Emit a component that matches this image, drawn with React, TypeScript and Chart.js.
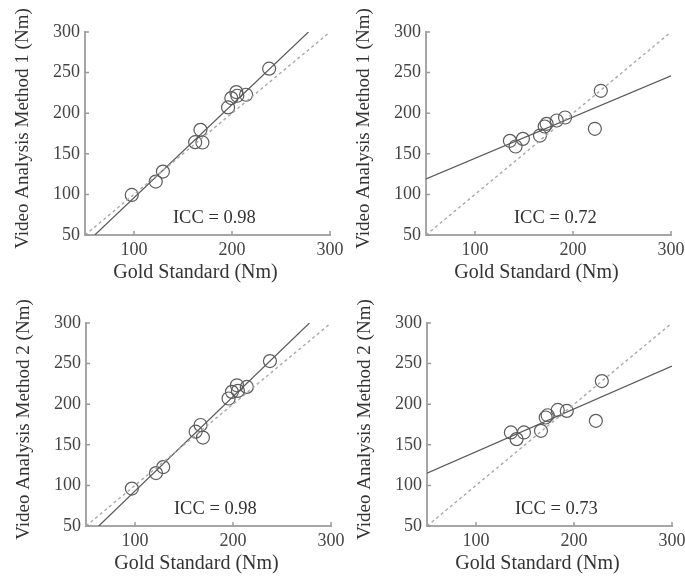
import React, { useEffect, useRef } from "react";
import { Chart, registerables } from "chart.js";

Chart.register(...registerables);

// ---- data ----
const xTicks = [100, 200, 300];
const yTicks = [50, 100, 150, 200, 250, 300];
const identityX = [50, 300];
const identityY = [50, 300];
const xTitle = "Gold Standard (Nm)";
const yTitles = [
  "Video Analysis Method 1 (Nm)",
  "Video Analysis Method 1 (Nm)",
  "Video Analysis Method 2 (Nm)",
  "Video Analysis Method 2 (Nm)",
];
const iccLabels = ["ICC = 0.98", "ICC = 0.72", "ICC = 0.98", "ICC = 0.73"];
const iccAt = [182, 71];

// panel 1: method 1 vs gold (all)
const p1Gold = [97.7, 122.2, 129.5, 162.4, 169.8, 167.8, 196, 199.3, 204.4, 205.4, 214.4, 237.9];
const p1Video = [99.3, 115.8, 128.1, 164.3, 163.9, 179.5, 207.1, 218.6, 226, 221.5, 222.7, 254.8];
const p1FitX = [60, 278];
const p1FitY = [50, 300];

// panel 2: method 1 vs gold (subset)
const p2Gold = [135.6, 141.4, 148.9, 166.3, 171.1, 173.1, 183.4, 191.9, 222.3, 228.4];
const p2Video = [166, 159, 168.4, 172.5, 183.6, 186.9, 191, 194.7, 180.8, 227.6];
const p2FitX = [50, 300];
const p2FitY = [119, 246];

// panel 3: method 2 vs gold (all)
const p3Gold = [96.8, 121.4, 128.8, 161.9, 166.9, 169.3, 195.5, 198.9, 204, 205, 214.1, 237.7];
const p3Video = [96.1, 115.2, 122.6, 166.2, 174.4, 158.9, 207, 215.2, 223.3, 216.4, 221.3, 253.1];
const p3FitX = [63, 278];
const p3FitY = [50, 300];

// panel 4: method 2 vs gold (subset)
const p4Gold = [135.6, 141.4, 148.9, 166.3, 171.1, 173.1, 183.4, 192.6, 222.3, 228.4];
const p4Video = [165.2, 157, 165.2, 167.2, 183.6, 186.4, 192.9, 191.7, 179.5, 228.5];
const p4FitX = [50, 300];
const p4FitY = [115, 247];

const FONT = "'Liberation Serif', 'Times New Roman', serif";

const panels = [
  { left: 0, top: 0, gx: p1Gold, vy: p1Video, fx: p1FitX, fy: p1FitY, icc: iccLabels[0], yTitle: yTitles[0] },
  { left: 341, top: 0, gx: p2Gold, vy: p2Video, fx: p2FitX, fy: p2FitY, icc: iccLabels[1], yTitle: yTitles[1] },
  { left: 1, top: 291, gx: p3Gold, vy: p3Video, fx: p3FitX, fy: p3FitY, icc: iccLabels[2], yTitle: yTitles[2] },
  { left: 342, top: 291, gx: p4Gold, vy: p4Video, fx: p4FitX, fy: p4FitY, icc: iccLabels[3], yTitle: yTitles[3] },
];

const zip = (xs: number[], ys: number[]) => xs.map((x, i) => ({ x, y: ys[i] }));

const decoPlugin = {
  id: "panelDeco",
  afterDraw(chart: any, _args: any, opts: any) {
    const { ctx, chartArea } = chart;
    const xs = chart.scales.x;
    const ys = chart.scales.y;
    ctx.save();
    // inner tick marks
    ctx.strokeStyle = "#9a9a9a";
    ctx.lineWidth = 1.5;
    ctx.beginPath();
    xTicks.forEach((v) => {
      const px = xs.getPixelForValue(v);
      ctx.moveTo(px, chartArea.bottom);
      ctx.lineTo(px, chartArea.bottom - 4);
    });
    yTicks.forEach((v) => {
      const py = ys.getPixelForValue(v);
      ctx.moveTo(chartArea.left, py);
      ctx.lineTo(chartArea.left + 4, py);
    });
    ctx.stroke();
    // ICC text
    ctx.fillStyle = "#333";
    ctx.font = `18.5px ${FONT}`;
    ctx.textAlign = "center";
    ctx.textBaseline = "middle";
    ctx.fillText(opts.icc, xs.getPixelForValue(iccAt[0]), ys.getPixelForValue(iccAt[1]));
    // x title
    ctx.font = `20px ${FONT}`;
    ctx.fillText(xTitle, (chartArea.left + chartArea.right) / 2 - 12, chartArea.bottom + 38);
    // y title
    ctx.font = `19px ${FONT}`;
    ctx.translate(23, (chartArea.top + chartArea.bottom) / 2 - 5);
    ctx.rotate(-Math.PI / 2);
    ctx.fillText(opts.yTitle, 0, 0);
    ctx.restore();
  },
};

function Panel({ p }: { p: any }) {
  const ref = useRef<HTMLCanvasElement>(null);
  useEffect(() => {
    if (!ref.current) return;
    const tickFont = { family: FONT, size: 18 };
    const chart = new Chart(ref.current, {
      type: "scatter",
      data: {
        datasets: [
          {
            type: "line",
            data: zip(identityX, identityY),
            borderColor: "#a8a8a8",
            borderDash: [3, 3],
            borderWidth: 1.4,
            pointRadius: 0,
            fill: false,
          } as any,
          {
            type: "line",
            data: zip(p.fx, p.fy),
            borderColor: "#5a5a5a",
            borderWidth: 1.2,
            pointRadius: 0,
            fill: false,
          } as any,
          {
            type: "scatter",
            data: zip(p.gx, p.vy),
            pointStyle: "circle",
            pointRadius: 6.5,
            backgroundColor: "rgba(0,0,0,0)",
            borderColor: "#5c5c5c",
            borderWidth: 1.2,
          } as any,
        ],
      },
      options: {
        responsive: false,
        animation: false,
        layout: { padding: { top: 32, right: 20, left: 0, bottom: 0 } },
        plugins: {
          legend: { display: false },
          tooltip: { enabled: false },
          panelDeco: { icc: p.icc, yTitle: p.yTitle },
        } as any,
        scales: {
          x: {
            type: "linear",
            min: 50,
            max: 300,
            afterBuildTicks: (s: any) => {
              s.ticks = xTicks.map((v) => ({ value: v }));
            },
            afterFit: (s: any) => {
              s.height = 55;
            },
            grid: { display: false, drawTicks: false },
            border: { color: "#a6a6a6", width: 2 },
            ticks: { font: tickFont, color: "#444", padding: 4, maxRotation: 0, autoSkip: false },
          },
          y: {
            type: "linear",
            min: 50,
            max: 300,
            afterBuildTicks: (s: any) => {
              s.ticks = yTicks.map((v) => ({ value: v }));
            },
            afterFit: (s: any) => {
              s.width = 85;
            },
            grid: { display: false, drawTicks: false },
            border: { color: "#a6a6a6", width: 2 },
            ticks: { font: tickFont, color: "#444", padding: 5, autoSkip: false },
          },
        },
      },
      plugins: [decoPlugin],
    });
    return () => chart.destroy();
  }, [p]);
  return (
    <canvas
      ref={ref}
      width={350}
      height={290}
      style={{ position: "absolute", left: p.left, top: p.top, width: 350, height: 290 }}
    />
  );
}

export default function App() {
  return (
    <div style={{ position: "absolute", left: 0, top: 0, width: 685, height: 576, background: "#fff", overflow: "hidden" }}>
      {panels.map((p, i) => (
        <Panel key={i} p={p} />
      ))}
    </div>
  );
}
